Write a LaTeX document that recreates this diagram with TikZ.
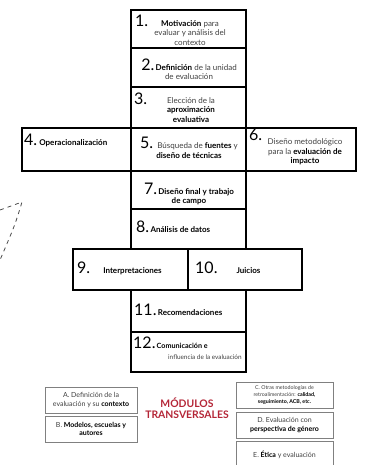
\documentclass[tikz,border=0pt]{standalone}
\usepackage{fontspec}
\setmainfont{Lato}
\definecolor{modred}{RGB}{180,38,55}
\newcommand\bignum[1]{{\fontsize{16}{16}\selectfont\color{black}#1}}
\newcommand\bk[1]{\textbf{\color{black}#1}}
\begin{document}
\begin{tikzpicture}[x=1pt,y=-1pt,
  mainbox/.style={draw, line width=2pt, inner sep=0pt},
  txt/.style={inner sep=0pt, align=center, font=\fontsize{8}{9.5}\selectfont, text=black!75},
  num/.style={inner sep=0pt, anchor=base west, font=\fontsize{16}{16}\selectfont},
  graybox/.style={draw=black!50, line width=1pt, inner sep=1pt, align=center,
    font=\fontsize{7}{8.7}\selectfont, text=black!75},
]
\useasboundingbox (0,0) rectangle (368,465);
% main boxes
\node[mainbox, minimum width=115pt, minimum height=38pt] (b1) at (188.5,29) {};
\node[mainbox, minimum width=115pt, minimum height=39pt] (b2) at (188.5,67.5) {};
\node[mainbox, minimum width=115pt, minimum height=41pt] (b3) at (188.5,107.5) {};
\node[mainbox, minimum width=109pt, minimum height=43pt] (b4) at (76.5,149.5) {};
\node[mainbox, minimum width=115pt, minimum height=43pt] (b5) at (188.5,149.5) {};
\node[mainbox, minimum width=110pt, minimum height=43pt] (b6) at (301,149.5) {};
\node[mainbox, minimum width=115pt, minimum height=38pt] (b7) at (188.5,190) {};
\node[mainbox, minimum width=115pt, minimum height=40pt] (b8) at (188.5,229) {};
\node[mainbox, minimum width=115pt, minimum height=41pt] (b9) at (130.5,269.5) {};
\node[mainbox, minimum width=114pt, minimum height=41pt] (b10) at (245,269.5) {};
\node[mainbox, minimum width=115pt, minimum height=42pt] (b11) at (188.5,311) {};
\node[mainbox, minimum width=115pt, minimum height=40pt] (b12) at (188.5,352) {};
% texts
\node[num] (n1) at (135,27) {1.};
\node[txt] (t1) at (190,33) {\bk{Motivación} para\\evaluar y análisis del\\contexto};
\node[txt] (t2) at (189,69) {\bignum{2.}\,\bk{Definición} de la unidad\\de evaluación};
\node[num] (n3) at (134,105) {3.};
\node[txt] (t3) at (191,110) {Elección de la\\\bk{aproximación}\\\bk{evaluativa}};
\node[txt, anchor=base west] (t4) at (24,146) {\bignum{4.}\ \bk{Operacionalización}};
\node[txt] (t5) at (189,148) {\bignum{5.}\ \ Búsqueda de \bk{fuentes} y\\\bk{diseño de técnicas}};
\node[num] (n6) at (249,141) {6.};
\node[txt] (t6) at (305,152) {Diseño metodológico\\para la \bk{evaluación de}\\\bk{impacto}};
\node[txt] (t7) at (189,194) {\bignum{7.}\,\bk{Diseño final y trabajo}\\\bk{de campo}};
\node[txt, anchor=base west] (t8) at (136,232) {\bignum{8.}\,\bk{Análisis de datos}};
\node[txt, anchor=base west] (t9) at (77,273) {\bignum{9.}\hspace{13pt}\bk{Interpretaciones}};
\node[txt, anchor=base west] (t10) at (195,273) {\bignum{10.}\hspace{19pt}\bk{Juicios}};
\node[txt, anchor=base west] (t11) at (134,315) {\bignum{11.}\,\bk{Recomendaciones}};
\node[txt, anchor=base west, font=\fontsize{7.2}{9}\selectfont] (t12a) at (133,348) {\bignum{12.}\,\bk{Comunicación e}};
\node[txt, anchor=base west, font=\fontsize{6.4}{8}\selectfont] (t12b) at (168,359) {influencia de la evaluación};
% dashed fragment
\coordinate (d1) at (0,210);
\coordinate (d2) at (22,202);
\coordinate (d3) at (0,260);
\draw[black!70, line width=0.8pt, dash pattern=on 4pt off 4pt] (d1) -- (d2) .. controls (15,225) .. (d3);
% transversal modules
\node[graybox, minimum width=92pt, minimum height=26pt] (ma) at (91,400)
  {A. Definición de la\\evaluación y su \bk{contexto}};
\node[graybox, minimum width=92pt, minimum height=26pt] (mb) at (91,429)
  {B. \bk{Modelos, escuelas y}\\\bk{autores}};
\node[font=\fontsize{10.4}{11.5}\selectfont\bfseries, text=modred, align=center, inner sep=0pt] (mt) at (187,408)
  {MÓDULOS\\TRANSVERSALES};
\node[graybox, minimum width=97pt, minimum height=26pt, font=\fontsize{5.3}{6.8}\selectfont] (mc) at (284.5,395)
  {C. Otras metodologías de\\retroalimentación: \bk{calidad,}\\\bk{seguimiento, ACB, etc.}};
\node[graybox, minimum width=97pt, minimum height=26pt] (md) at (284.5,425)
  {D. Evaluación con\\\bk{perspectiva de género}};
\node[graybox, minimum width=97pt, minimum height=27pt] (me) at (284.5,454.5)
  {E. \bk{Ética} y evaluación};
\end{tikzpicture}
\end{document}
